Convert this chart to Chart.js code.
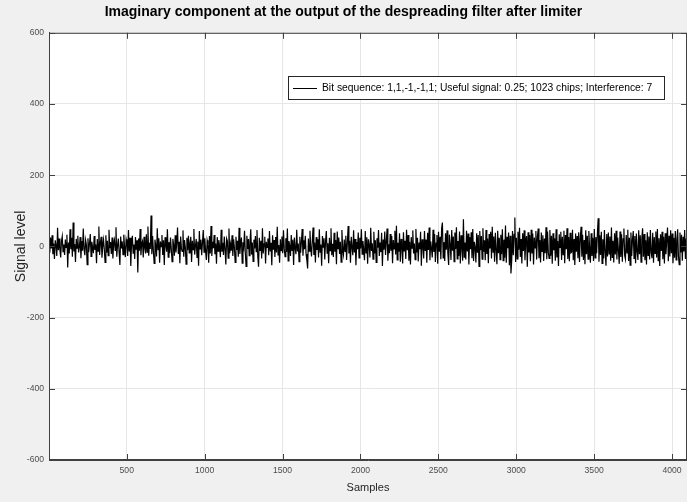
<!DOCTYPE html>
<html><head><meta charset="utf-8">
<script src="https://cdn.jsdelivr.net/npm/chart.js@4/dist/chart.umd.min.js"></script>
<style>html,body{margin:0;padding:0;background:#f0f0f0;}#wrap{width:687px;height:502px;}</style>
</head><body><div id="wrap"><canvas id="c" width="687" height="502"></canvas></div>
<script>
const chartTitle = "Imaginary component at the output of the despreading filter after limiter";
const seriesLabel = "Bit sequence: 1,1,-1,-1,1; Useful signal: 0.25; 1023 chips; Interference: 7";
const xAxisTitle = "Samples";
const yAxisTitle = "Signal level";
const xTicks = [500, 1000, 1500, 2000, 2500, 3000, 3500, 4000];
const yTicks = [-600, -400, -200, 0, 200, 400, 600];
const sampleStart = 1;
const sampleStep = 5;
const signal = [
12,-18,25,-6,31,-22,8,-35,17,3,-27,52,-11,22,-9,-31,14,28,-15,5,
-24,19,-3,33,-59,11,-20,48,-8,24,-29,67,-14,7,-44,21,-5,30,-17,-2,
26,-33,15,-12,50,-7,-25,18,4,-51,23,-16,9,35,-28,13,-4,-19,29,-10,
6,-47,21,-13,56,-24,10,27,-32,1,19,-8,-45,31,-18,16,-26,47,-5,12,
-21,25,-34,7,18,-11,54,-29,3,22,-16,-52,28,-6,14,-23,33,-2,-30,20,
9,-27,46,-14,24,-55,11,30,-19,5,-35,26,-9,17,-73,22,-12,49,-25,8,
15,-31,27,-4,-20,34,-16,56,-26,10,-7,87,-22,29,-13,-48,19,3,-28,51,
-9,23,-46,14,-1,32,-24,17,-52,26,6,-15,48,-30,12,-19,25,-8,-43,21,
4,-26,31,-17,9,53,-21,13,-47,28,-6,-14,45,-29,18,-3,-50,24,-11,30,
-18,8,27,-44,16,-9,49,-23,2,21,-31,14,-54,43,-7,19,-25,11,46,-16,
23,-12,-38,17,5,-46,29,-20,57,-27,13,-5,32,-22,8,-49,26,-13,18,-1,
-30,47,-15,10,-24,28,-8,-51,22,15,-33,50,-19,6,-12,31,-27,20,-4,-45,
27,-10,16,-29,52,-21,9,25,-47,12,-2,44,-18,-56,30,-7,21,-26,14,48,
-23,11,-42,19,-6,29,-15,46,-28,-57,24,-11,16,-34,51,-20,7,27,-48,13,
-3,22,-25,43,-14,10,-53,31,-9,18,-30,26,-17,55,-24,4,-46,20,-12,28,
-19,45,-7,-29,23,-16,50,-41,15,2,-27,32,-11,19,-52,25,-5,-22,47,-14,
8,-43,27,-18,12,49,-26,17,-8,30,-21,-39,-62,22,-13,44,-4,-28,16,53,
-24,11,-45,26,-10,20,-31,48,-16,5,-54,29,-2,23,-37,14,43,-19,9,-47,
24,-12,51,-25,7,-30,38,-15,18,-50,42,-6,25,-21,13,-44,46,-9,-23,19,
-14,30,-38,10,57,-20,16,-46,27,-3,-25,45,-17,21,-53,12,-8,39,-32,24,
-6,48,-22,15,-11,-39,43,-18,26,-49,20,4,-31,52,-13,9,-36,41,-20,17,
-45,23,-4,46,-27,11,-16,38,-55,19,-9,42,-24,14,50,-40,6,-19,35,-12,
29,-47,18,-7,44,-23,58,-38,10,-15,37,-43,21,-2,-48,40,-14,16,-35,47,
-11,32,-40,13,-51,26,-5,45,-20,8,-37,49,-17,24,-42,11,-8,41,-54,20,
3,-34,43,-13,19,-46,38,-10,53,-39,14,-6,-31,47,-16,35,-44,9,32,-49,
41,-15,27,-36,50,67,-32,12,-41,37,-9,45,-19,-52,33,6,-38,46,-12,28,
-43,39,-7,54,-35,15,-27,42,-48,31,-4,-40,76,-30,11,-37,44,-14,36,-51,
26,-8,40,-33,49,-41,13,-2,-45,37,-18,32,-56,43,-11,29,-36,51,-15,17,
-39,46,-21,22,-47,35,-6,41,-34,55,-16,28,-43,38,-10,-50,44,-19,24,-37,
33,-22,48,-40,19,-32,59,-46,27,-5,39,-53,30,-76,-38,43,-25,34,81,-44,
24,-35,41,-9,52,-30,21,-48,37,-13,45,-39,16,29,-57,40,-17,32,-42,47,
-20,36,-51,25,-4,43,-37,28,50,-33,18,-45,39,-14,31,-41,22,-19,54,-36,
42,-17,-34,46,-26,30,-49,37,-11,23,-40,48,-31,15,-55,34,-3,41,-38,27,
-23,44,-47,32,-8,51,-35,26,-42,38,-18,-16,47,-39,21,-52,36,-15,29,-33,
40,-44,22,55,-29,33,-38,18,-50,45,-22,30,-36,43,-5,-46,37,-27,24,-41,
49,-32,26,-19,38,79,-43,31,-24,41,-48,20,-34,46,-17,-54,35,-28,39,-21,
28,-40,53,-31,16,-45,37,-23,44,-37,25,-12,-49,42,-30,34,-43,21,50,-26,
-36,32,-18,47,-41,24,-53,39,-27,19,43,-34,29,-47,36,-14,-38,45,-22,31,
-44,22,51,-29,35,-39,17,-51,40,-25,28,-37,46,-16,-33,38,-46,26,-20,42,
-31,49,-40,23,-55,34,-13,41,-36,27,-48,37,-22,18,53,-42,30,-28,45,-19,
36,-47,24,-32,43,-38,20,48,-26,-51,39,-17,33,-40,27,-14,46,-35,22,-29
];
const points = signal.map((v, i) => ({x: sampleStart + i * sampleStep, y: v}));

const sans = '"Liberation Sans", Arial, sans-serif';

const frame = {
  id: 'frame',
  beforeDraw(chart) {
    const {ctx, chartArea: a} = chart;
    ctx.save();
    ctx.fillStyle = '#f0f0f0';
    ctx.fillRect(0, 0, chart.width, chart.height);
    ctx.fillStyle = '#ffffff';
    ctx.fillRect(a.left, a.top, a.right - a.left, a.bottom - a.top);
    ctx.restore();
  },
  afterDraw(chart) {
    const {ctx, chartArea: a, scales} = chart;
    ctx.save();
    ctx.strokeStyle = '#404040';
    ctx.lineWidth = 1;
    ctx.strokeRect(a.left + 0.5, a.top + 0.5, a.right - a.left - 1, a.bottom - a.top - 1);
    ctx.beginPath();
    xTicks.forEach(v => {
      const px = Math.round(scales.x.getPixelForValue(v)) + 0.5;
      ctx.moveTo(px, a.bottom); ctx.lineTo(px, a.bottom - 6);
      ctx.moveTo(px, a.top); ctx.lineTo(px, a.top + 6);
    });
    yTicks.forEach(v => {
      const py = Math.round(scales.y.getPixelForValue(v)) + 0.5;
      ctx.moveTo(a.left, py); ctx.lineTo(a.left + 6, py);
      ctx.moveTo(a.right, py); ctx.lineTo(a.right - 6, py);
    });
    ctx.stroke();
    // legend
    const lx = 288, ly = 76, lw = 376, lh = 23;
    ctx.fillStyle = '#ffffff';
    ctx.fillRect(lx, ly, lw, lh);
    ctx.strokeStyle = '#262626';
    ctx.strokeRect(lx + 0.5, ly + 0.5, lw, lh);
    ctx.beginPath();
    ctx.strokeStyle = '#000000';
    ctx.moveTo(293, 88.5); ctx.lineTo(317, 88.5);
    ctx.stroke();
    ctx.fillStyle = '#000000';
    ctx.font = '10.3px ' + sans;
    ctx.textBaseline = 'middle';
    ctx.textAlign = 'left';
    ctx.fillText(chart.data.datasets[0].label, 322, 88);
    ctx.restore();
  }
};

new Chart(document.getElementById('c'), {
  type: 'line',
  data: {
    datasets: [{
      label: seriesLabel,
      data: points,
      borderColor: '#000000',
      borderWidth: 1.2,
      pointRadius: 0,
      tension: 0,
      fill: false
    }]
  },
  options: {
    responsive: false,
    animation: false,
    devicePixelRatio: 1,
    layout: {padding: 0},
    plugins: {
      legend: {display: false},
      tooltip: {enabled: false},
      title: {
        display: true,
        text: chartTitle,
        color: '#000000',
        font: {family: sans, size: 14, weight: 'bold'},
        padding: {top: 4, bottom: 12}
      }
    },
    scales: {
      x: {
        type: 'linear',
        min: 1,
        max: 4096,
        afterBuildTicks: s => { s.ticks = xTicks.map(v => ({value: v})); },
        afterFit: s => { s.height = 42; },
        grid: {color: '#e6e6e6', drawTicks: false},
        border: {color: '#404040'},
        ticks: {color: '#4d4d4d', font: {family: sans, size: 8.6}, padding: 5, maxRotation: 0, autoSkip: false, callback: v => String(v)},
        title: {display: true, text: xAxisTitle, color: '#262626', font: {family: sans, size: 11}, padding: {top: 0, bottom: 7}}
      },
      y: {
        min: -600,
        max: 600,
        afterBuildTicks: s => { s.ticks = yTicks.map(v => ({value: v})); },
        afterFit: s => { s.width = 49; },
        grid: {color: '#e6e6e6', drawTicks: false},
        border: {color: '#404040'},
        ticks: {color: '#4d4d4d', font: {family: sans, size: 8.6}, padding: 5, callback: v => String(v)},
        title: {display: true, text: yAxisTitle, color: '#262626', font: {family: sans, size: 14}, padding: {top: 13, bottom: 0}}
      }
    }
  },
  plugins: [frame]
});
</script>
</body></html>
